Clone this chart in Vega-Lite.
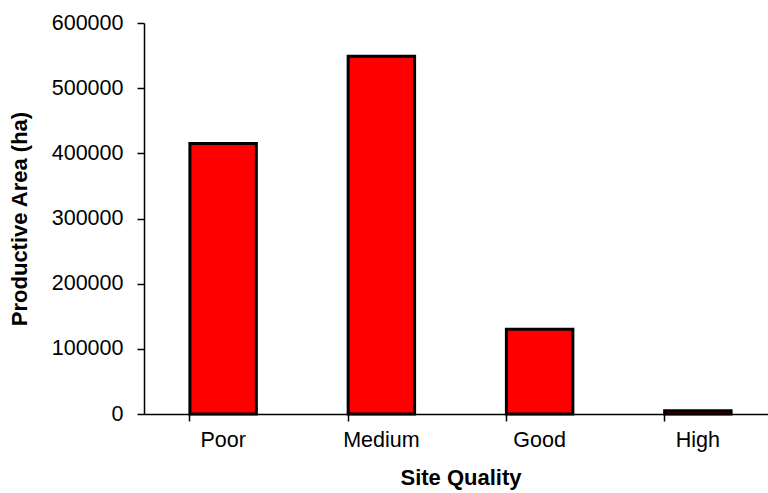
{
  "$schema": "https://vega.github.io/schema/vega-lite/v6.json",
  "autosize": {"type": "none"},
  "padding": {"left": 144, "top": 23, "right": 0, "bottom": 79},
  "width": 624,
  "height": 391,
  "background": "white",
  "config": {
    "view": {"stroke": null},
    "font": "Liberation Sans",
    "axis": {
      "domainColor": "black",
      "domainWidth": 1.5,
      "tickColor": "black",
      "tickWidth": 1.5,
      "tickSize": 7,
      "grid": false,
      "labelColor": "black",
      "labelFont": "Liberation Sans",
      "labelFontSize": 21.5,
      "titleColor": "black",
      "titleFont": "Liberation Sans",
      "titleFontSize": 22,
      "titleFontWeight": "bold"
    }
  },
  "data": {
    "values": [
      {"quality": "Poor", "area": 415000},
      {"quality": "Medium", "area": 549000},
      {"quality": "Good", "area": 130000},
      {"quality": "High", "area": 5000}
    ]
  },
  "mark": {"type": "bar", "color": "#ff0000", "stroke": "black", "strokeWidth": 3},
  "encoding": {
    "x": {
      "field": "quality",
      "type": "nominal",
      "sort": null,
      "title": "Site Quality",
      "scale": {"range": [0, 633], "paddingInner": 0.58, "paddingOuter": 0.29},
      "axis": {"labelAngle": 0, "labelPadding": 8, "titlePadding": 17, "bandPosition": 0, "ticks": true}
    },
    "y": {
      "field": "area",
      "type": "quantitative",
      "title": "Productive Area (ha)",
      "scale": {"domain": [0, 600000], "nice": false},
      "axis": {"values": [0, 100000, 200000, 300000, 400000, 500000, 600000], "format": "d", "labelPadding": 14, "titlePadding": 20}
    }
  }
}
